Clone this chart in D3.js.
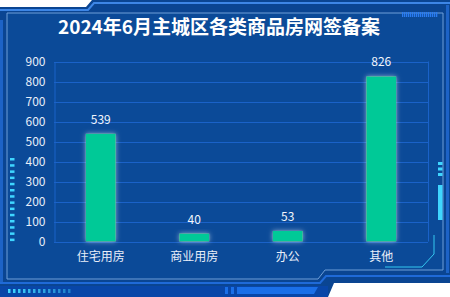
<!DOCTYPE html>
<html>
<head>
<meta charset="utf-8">
<script src="https://cdn.jsdelivr.net/npm/d3@7"></script>
<style>
  html, body { margin: 0; padding: 0; background: #fff; }
  svg { display: block; }
</style>
</head>
<body>
<div id="chart"></div>
<script>
  let title = '2024年6月主城区各类商品房网签备案'
  let categories = ['住宅用房', '商业用房', '办公', '其他']
  let values = [539, 40, 53, 826]
  let yTicks = [0, 100, 200, 300, 400, 500, 600, 700, 800, 900]

  let width = 450
  let height = 297
  let font = '"Microsoft YaHei", "Noto Sans CJK SC", sans-serif'

  let svg = d3.select('#chart')
              .append('svg')
                .attr('width', width)
                .attr('height', height)

  let defs = svg.append('defs')
  let glow = defs.append('filter')
                .attr('id', 'glow')
                .attr('x', '-50%').attr('y', '-50%')
                .attr('width', '200%').attr('height', '200%')
  glow.append('feDropShadow')
      .attr('dx', 0).attr('dy', 0)
      .attr('stdDeviation', 2.5)
      .attr('flood-color', '#ffffff')
      .attr('flood-opacity', 0.55)

  // frame
  svg.append('path')
     .attr('d', 'M0,7 L86,7 L92,0 L450,0 L450,283 L334,283 L328,297 L0,297 Z')
     .attr('fill', '#0a4592')
  svg.append('path')
     .attr('d', 'M0,10 L88,10 L94,3 L450,3')
     .attr('fill', 'none').attr('stroke', '#3d86e6').attr('stroke-width', 2)
  svg.append('path')
     .attr('d', 'M7,13 L443,13 L443,270 L325,270 L318,279 L7,279 Z')
     .attr('fill', '#0b4a98')
     .attr('stroke', '#6f9fd8').attr('stroke-width', 1)
  svg.append('path')
     .attr('d', 'M0,283 L320,283 L326,276 L450,276')
     .attr('fill', 'none').attr('stroke', '#1f6ad8').attr('stroke-width', 2)
  svg.append('rect').attr('x', 0).attr('y', 286).attr('width', 328).attr('height', 11).attr('fill', '#0846a8')
  svg.append('rect').attr('x', 0).attr('y', 20).attr('width', 3).attr('height', 262).attr('fill', '#1d63c6')
  svg.append('rect').attr('x', 446).attr('y', 5).attr('width', 3).attr('height', 268).attr('fill', '#1d63c6')

  // bottom middle blue blocks
  svg.append('rect').attr('x', 225).attr('y', 287).attr('width', 3).attr('height', 7).attr('fill', '#1a6fe8')
  svg.append('rect').attr('x', 231).attr('y', 287).attr('width', 3).attr('height', 7).attr('fill', '#1a6fe8')
  svg.append('path').attr('d', 'M237,287 L318,287 L314,294 L237,294 Z').attr('fill', '#1a6fe8')

  // bottom-left dots
  svg.selectAll('.bdot').data(d3.range(13)).enter().append('rect')
     .attr('x', (d) => { return 8 + d * 5 })
     .attr('y', 289).attr('width', 2.5).attr('height', 4)
     .attr('fill', '#3fd6ff').attr('opacity', (d) => { return 1 - d * 0.05 })

  // left dashes
  svg.selectAll('.ldash').data(d3.range(14)).enter().append('rect')
     .attr('x', 10).attr('y', (d) => { return 158 + d * 6.2 })
     .attr('width', 4.5).attr('height', 2.5)
     .attr('fill', '#3fd6ff')

  // right decorations
  svg.selectAll('.rdash').data(d3.range(3)).enter().append('rect')
     .attr('x', 438).attr('y', (d) => { return 162 + d * 5.5 })
     .attr('width', 4.5).attr('height', 3)
     .attr('fill', '#3fd6ff')
  svg.append('rect').attr('x', 438).attr('y', 185).attr('width', 4.5).attr('height', 35).attr('fill', '#3fd6ff')
  svg.append('path')
     .attr('d', 'M385,267 L422,267 L434,254 L434,235')
     .attr('fill', 'none').attr('stroke', '#35c8f0').attr('stroke-width', 1)

  // top-right stripe
  svg.selectAll('.tstripe').data(d3.range(18)).enter().append('rect')
     .attr('x', (d) => { return 402 + d * 2 })
     .attr('y', 12).attr('width', 1.3).attr('height', 5)
     .attr('fill', '#2a7cf0')

  // title
  svg.append('text')
     .attr('x', 219).attr('y', 34)
     .attr('text-anchor', 'middle')
     .attr('font-family', font)
     .attr('font-size', 19)
     .attr('font-weight', 'bold')
     .attr('fill', '#ffffff')
     .text(title)

  // scales
  let plotLeft = 54
  let plotRight = 428
  let plotTop = 61.5
  let plotBottom = 241.5

  let xScale = d3.scaleBand()
                .domain(categories)
                .range([plotLeft, plotRight])

  let yScale = d3.scaleLinear()
                .domain([0, 900])
                .range([plotBottom, plotTop])

  // grid
  svg.selectAll('.grid').data(yTicks).enter().append('line')
     .attr('x1', plotLeft).attr('x2', plotRight)
     .attr('y1', (d) => { return Math.round(yScale(d)) + 0.5 })
     .attr('y2', (d) => { return Math.round(yScale(d)) + 0.5 })
     .attr('stroke', '#1a62c8').attr('stroke-width', 1)
  svg.append('line')
     .attr('x1', plotRight + 0.5).attr('x2', plotRight + 0.5)
     .attr('y1', yScale(900)).attr('y2', yScale(0))
     .attr('stroke', '#1a62c8')

  let yAxis = svg.append('g')
                .attr('transform', 'translate(' + (plotLeft + 0.5) + ',0)')
                .call(d3.axisLeft(yScale).tickValues(yTicks).tickSize(0).tickPadding(9))
  yAxis.select('.domain').attr('stroke', '#1a62c8')
  yAxis.selectAll('text')
       .attr('font-family', font).attr('font-size', 12).attr('fill', '#e8eef8')

  let xAxis = svg.append('g')
                .attr('transform', 'translate(0,' + plotBottom + ')')
                .call(d3.axisBottom(xScale).tickSize(0).tickPadding(11))
  xAxis.select('.domain').remove()
  xAxis.selectAll('text')
       .attr('font-family', font).attr('font-size', 12).attr('fill', '#e8eef8')

  // bars
  let barWidth = 30
  svg.selectAll('.bar').data(values).enter().append('rect')
     .attr('x', (d, i) => { return xScale(categories[i]) + xScale.bandwidth() / 2 - barWidth / 2 })
     .attr('y', (d) => { return yScale(d) })
     .attr('width', barWidth)
     .attr('height', (d) => { return plotBottom - yScale(d) })
     .attr('fill', '#00c997')
     .attr('filter', 'url(#glow)')

  svg.selectAll('.val').data(values).enter().append('text')
     .attr('x', (d, i) => { return xScale(categories[i]) + xScale.bandwidth() / 2 })
     .attr('y', (d) => { return yScale(d) - 10 })
     .attr('text-anchor', 'middle')
     .attr('font-family', font).attr('font-size', 12)
     .attr('fill', '#f2f6fc')
     .text((d) => { return d })
</script>
</body>
</html>
